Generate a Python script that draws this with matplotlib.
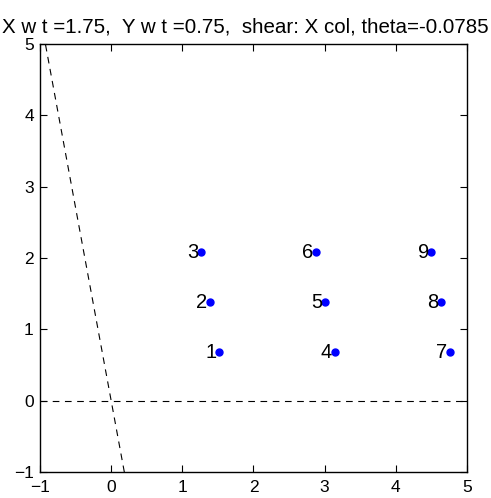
import matplotlib.pyplot as plt
import numpy as np

plt.rcParams['font.family'] = ['Liberation Sans', 'DejaVu Sans']

# point data (after shear)
px = [1.52, 1.39, 1.26, 3.14, 3.01, 2.88, 4.76, 4.63, 4.50]
py = [0.68, 1.38, 2.08, 0.68, 1.38, 2.08, 0.68, 1.38, 2.08]
labels = ['1', '2', '3', '4', '5', '6', '7', '8', '9']

# sheared axis line: x = k*y
shear_k = -0.185
line_y = [-1, 5]

fig = plt.figure(figsize=(4.91, 4.98), dpi=100)
ax = fig.add_axes([0.0815, 0.052, 0.8695, 0.86])

ax.plot([-1, 5], [0, 0], 'k--', linewidth=0.8, dashes=(6, 5))
ax.plot([shear_k * v for v in line_y], line_y, 'k--', linewidth=0.8, dashes=(6, 5))

ax.plot(px, py, 'o', color='blue', markersize=5, linestyle='none')
for x, y, s in zip(px, py, labels):
    ax.text(x - 0.035, y, s, ha='right', va='center', fontsize=14.5)

ax.set_xlim(-1, 5)
ax.set_ylim(-1, 5)
ax.set_xticks(range(-1, 6))
ax.set_yticks(range(-1, 6))
ax.tick_params(direction='in', top=True, right=True, length=5, labelsize=12.5, width=0.8)
ax.tick_params(axis='x', pad=6)
ax.tick_params(axis='y', pad=4.5)
for sp in ax.spines.values():
    sp.set_linewidth(1.0)
ax.set_title('X w t =1.75,  Y w t =0.75,  shear: X col, theta=-0.0785',
             fontsize=14.8, pad=8, x=0.481)

plt.savefig('out.png', dpi=100)
